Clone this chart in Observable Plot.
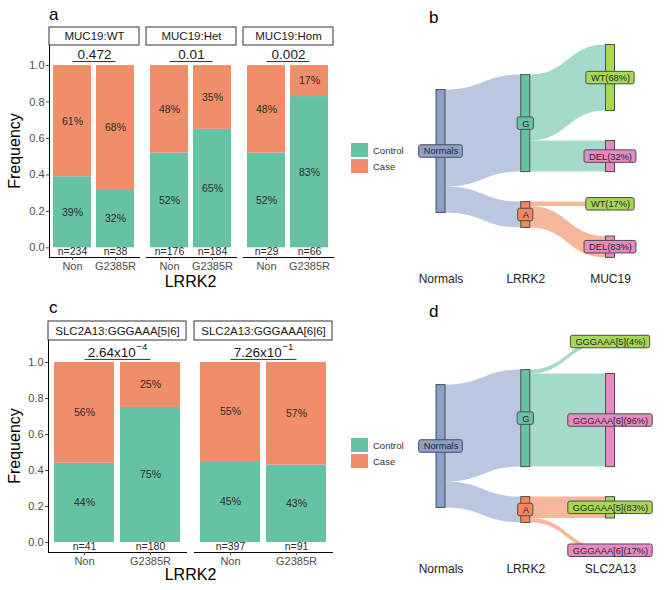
<!DOCTYPE html>
<html><head><meta charset="utf-8">
<script src="https://cdn.jsdelivr.net/npm/d3@7"></script>
<script src="https://cdn.jsdelivr.net/npm/@observablehq/plot@0.6"></script>
<style>
body{margin:0;background:#fff;}
#fig{position:relative;width:670px;height:590px;overflow:hidden;font-family:"Liberation Sans",Arial,Helvetica,sans-serif;color:#000;background:#fff;}
.panel{position:absolute;}
.letter{position:absolute;font-size:17px;line-height:17px;}
.axt{position:absolute;font-size:16px;line-height:16px;white-space:nowrap;color:#000;}
.sw{position:absolute;width:17px;height:14px;}
.lt{position:absolute;font-size:9.5px;line-height:10px;color:#333;transform:translateY(-50%);}
</style></head><body><div id="fig"></div><script>
// ---------- data ----------
const statusLevels = ["Control", "Case"];
const statusColors = ["#66c2a5", "#f08e69"];
const lrrk2Groups = ["Non", "G2385R"];

const mucFacets = ["MUC19:WT", "MUC19:Het", "MUC19:Hom"];
const mucControlPct = [39, 32, 52, 65, 52, 83];
const mucN = [234, 38, 176, 184, 29, 66];
const mucPBase = ["0.472", "0.01", "0.002"];
const mucPExp = ["", "", ""];

const slcFacets = ["SLC2A13:GGGAAA[5|6]", "SLC2A13:GGGAAA[6|6]"];
const slcControlPct = [44, 75, 45, 43];
const slcN = [41, 180, 397, 91];
const slcPBase = ["2.64x10", "7.26x10"];
const slcPExp = ["\u22124", "\u22121"];

const stagesB = ["Normals", "LRRK2", "MUC19"];
const stagesD = ["Normals", "LRRK2", "SLC2A13"];
const lrrk2Alleles = ["G", "A"];
const lrrk2AlleleShare = [79, 21];
const mucAlleles = ["WT", "DEL"];
const mucShareByAllele = [[68, 32], [17, 83]];
const slcAlleles = ["GGGAAA[5]", "GGGAAA[6]"];
const slcShareByAllele = [[4, 96], [83, 17]];

const nodeColors = {Normals: "#8da0cb", G: "#66c2a5", A: "#f4875c"};
const childColors = ["#a6d854", "#e78ac3"];

const FONT = '"Liberation Sans", Arial, Helvetica, sans-serif';
const fig = document.getElementById("fig");

const ctx = document.createElement("canvas").getContext("2d");
function textW(s, size) { ctx.font = size + 'px "Liberation Sans"'; return ctx.measureText(s).width; }

function place(el, left, top) {
  const d = document.createElement("div");
  d.className = "panel"; d.style.left = left + "px"; d.style.top = top + "px";
  d.appendChild(el); fig.appendChild(d);
}
function html(cls, text, css) {
  const d = document.createElement("div");
  d.className = cls; d.textContent = text; Object.assign(d.style, css); fig.appendChild(d);
}

// ---------- stacked bar panels ----------
const P_SIZE = 13.5, E_SIZE = 9.5;
function barPanel(o) {
  const rows = [], nRows = [];
  o.facets.forEach((f, i) => lrrk2Groups.forEach((g, j) => {
    const c = o.ctrl[i * 2 + j];
    rows.push({facet: f, group: g, status: "Control", pct: c, freq: c / 100});
    rows.push({facet: f, group: g, status: "Case", pct: 100 - c, freq: (100 - c) / 100});
    nRows.push({facet: f, group: g, n: o.n[i * 2 + j]});
  }));
  const pRows = o.facets.map((f, i) => {
    const wb = textW(o.pBase[i], P_SIZE), we = o.pExp[i] ? textW(o.pExp[i], E_SIZE) + 0.5 : 0;
    return {facet: f, base: o.pBase[i], exp: o.pExp[i], start: -(wb + we) / 2, wb};
  });
  return Plot.plot({
    width: o.width, height: o.height,
    marginLeft: 48, marginRight: 7, marginTop: o.mt, marginBottom: o.mb,
    style: {fontFamily: FONT, fontSize: "11px", color: "#4d4d4d", background: "#fff"},
    fx: {domain: o.facets, paddingInner: o.fxPad, paddingOuter: 0, axis: null, label: null},
    x: {domain: lrrk2Groups, paddingInner: o.xPadIn, paddingOuter: o.xPadOut, label: null},
    y: {domain: [o.yBottom, o.yTop], label: null},
    color: {domain: statusLevels, range: statusColors},
    marks: [
      Plot.barY(rows, {fx: "facet", x: "group", y: "freq", fill: "status"}),
      Plot.text(rows, Plot.stackY({fx: "facet", x: "group", y: "freq", text: d => d.pct + "%", fill: "#2b2b2b", fontSize: 10.5})),
      Plot.text(nRows, {fx: "facet", x: "group", y: 0, text: d => "n=" + d.n, lineAnchor: "top", fill: "#2b2b2b", fontSize: 10.5}),
      Plot.frame({anchor: "bottom", stroke: "#000", strokeOpacity: 1}),
      Plot.frame({anchor: "left", facetAnchor: "left", stroke: "#000", strokeOpacity: 1}),
      Plot.axisY({ticks: [0, 0.2, 0.4, 0.6, 0.8, 1], tickFormat: d3.format(".1f"), tickSize: 3, tickPadding: 2, fontSize: 11, label: null}),
      Plot.axisX({tickSize: 3, tickPadding: 2, fontSize: 11, label: null}),
      Plot.rect(pRows, {fx: "facet", y1: o.yTop, y2: o.yTop + o.stripH, fill: "#fff", stroke: "#333"}),
      Plot.text(pRows, {fx: "facet", y: o.yTop + o.stripH / 2, text: "facet", fontSize: 11.5, fill: "#1a1a1a"}),
      Plot.link(pRows, {fx: "facet", x1: () => "Non", x2: () => "G2385R", y1: o.pY, y2: o.pY, stroke: "#333", strokeWidth: 1}),
      ...pRows.map(r => Plot.text([r], {fx: "facet", y: o.pY, dy: -7, dx: r.start, textAnchor: "start", text: "base", fontSize: P_SIZE, fill: "#1a1a1a"})),
      ...pRows.filter(r => r.exp).map(r => Plot.text([r], {fx: "facet", y: o.pY, dy: -12.5, dx: r.start + r.wb + 0.5, textAnchor: "start", text: "exp", fontSize: E_SIZE, fill: "#1a1a1a"}))
    ]
  });
}

place(barPanel({facets: mucFacets, ctrl: mucControlPct, n: mucN, pBase: mucPBase, pExp: mucPExp,
  width: 340, height: 290, mt: 45, mb: 33, yBottom: -0.053, yTop: 1.11, stripH: 0.0987, pY: 1.022,
  fxPad: 0.077, xPadIn: 0.114, xPadOut: 0.08}), 0, 0);

place(barPanel({facets: slcFacets, ctrl: slcControlPct, n: slcN, pBase: slcPBase, pExp: slcPExp,
  width: 340, height: 300, mt: 50, mb: 38, yBottom: -0.0556, yTop: 1.122, stripH: 0.1056, pY: 1.017,
  fxPad: 0.0546, xPadIn: 0.09, xPadOut: 0.078}), 0, 290);

// ---------- sankey panels ----------
const PX_X = 84.75;   // pixels per stage
const PX_Y = 1.228;   // pixels per share unit
const HW = 4.5 / PX_X;
const GAP = 30 / PX_Y;
const L_SIZE = 9.3;

function sankeyPanel(o) {
  const nodes = [], links = [];
  nodes.push({key: "Normals", label: "Normals", stage: 0, value: 100, color: nodeColors.Normals});
  lrrk2Alleles.forEach((a, i) => {
    nodes.push({key: a, label: a, stage: 1, value: lrrk2AlleleShare[i], color: nodeColors[a]});
    links.push({source: "Normals", target: a, value: lrrk2AlleleShare[i]});
  });
  lrrk2Alleles.forEach((a, i) => o.childAlleles.forEach((c, j) => {
    const v = lrrk2AlleleShare[i] * o.childShare[i][j] / 100;
    nodes.push({key: a + ":" + c, label: `${c}(${o.childShare[i][j]}%)`, stage: 2, value: v, color: childColors[j]});
    links.push({source: a, target: a + ":" + c, value: v});
  }));
  const byKey = new Map(nodes.map(n => [n.key, n]));
  for (const s of [0, 1, 2]) {
    const col = nodes.filter(n => n.stage === s);
    const total = d3.sum(col, n => n.value) + GAP * (col.length - 1);
    let y = -total / 2;
    for (const n of col) {
      n.y0 = y; n.y1 = y + n.value; n.ym = (n.y0 + n.y1) / 2;
      n.outY = n.y0; n.inY = n.y0; y = n.y1 + GAP;
      n.bw = (textW(n.label, L_SIZE) / 2 + 4.5) / PX_X;
      n.bh = 6.25 / PX_Y;
    }
  }
  const pts = [];
  links.forEach((l, k) => {
    const s = byKey.get(l.source), t = byKey.get(l.target);
    const sy = s.outY; s.outY += l.value;
    const ty = t.inY; t.inY += l.value;
    pts.push({id: k, x: s.stage + HW, y1: sy, y2: sy + l.value, color: s.color});
    pts.push({id: k, x: t.stage - HW, y1: ty, y2: ty + l.value, color: s.color});
  });
  const D = 110;
  return Plot.plot({
    width: 330, height: o.height, marginLeft: 0, marginRight: 0, marginTop: 0, marginBottom: o.height - 282,
    style: {fontFamily: FONT, fontSize: "9px", background: "#fff"},
    x: {domain: [0, 2], range: [100.5, 270], axis: null},
    y: {domain: [-D, D], range: [o.cy - D * PX_Y, o.cy + D * PX_Y], axis: null},
    color: {type: "identity"},
    marks: [
      Plot.areaY(pts, {x: "x", y1: "y1", y2: "y2", z: "id", fill: "color", fillOpacity: 0.6, curve: "bump-x"}),
      Plot.rect(nodes, {x1: d => d.stage - HW, x2: d => d.stage + HW, y1: "y0", y2: "y1", fill: "color", stroke: "#4d4d4d", strokeWidth: 1}),
      Plot.rect(nodes, {x1: d => d.stage - d.bw, x2: d => d.stage + d.bw, y1: d => d.ym - d.bh, y2: d => d.ym + d.bh, fill: "color", stroke: "#4d4d4d", strokeWidth: 1, rx: 2}),
      Plot.text(nodes, {x: "stage", y: "ym", text: "label", fontSize: L_SIZE, fill: "#262626"}),
      Plot.text(o.stages, {x: (d, i) => i, frameAnchor: "bottom", text: d => d, fontSize: 12, fill: "#222"})
    ]
  });
}

place(sankeyPanel({stages: stagesB, childAlleles: mucAlleles, childShare: mucShareByAllele, height: 290, cy: 151}), 340, 0);
place(sankeyPanel({stages: stagesD, childAlleles: slcAlleles, childShare: slcShareByAllele, height: 300, cy: 156}), 340, 290);

// ---------- legends ----------
function legend(cy) {
  statusLevels.forEach((s, i) => {
    const sw = document.createElement("div");
    sw.className = "sw"; sw.style.left = "351px"; sw.style.top = (cy - 8 + i * 16) + "px";
    sw.style.background = statusColors[i]; fig.appendChild(sw);
    html("lt", s, {left: "373px", top: (cy - 0.5 + i * 16) + "px"});
  });
}
legend(151);
legend(446);

// ---------- titles and panel letters ----------
html("letter", "a", {left: "49px", top: "5.6px"});
html("letter", "b", {left: "429px", top: "8.6px"});
html("letter", "c", {left: "49px", top: "298.6px"});
html("letter", "d", {left: "429px", top: "302.6px"});
html("axt", "Frequency", {left: "14.5px", top: "151px", transform: "translate(-50%,-50%) rotate(-90deg)"});
html("axt", "Frequency", {left: "14.5px", top: "446px", transform: "translate(-50%,-50%) rotate(-90deg)"});
html("axt", "LRRK2", {left: "190.5px", top: "282px", transform: "translate(-50%,-50%)"});
html("axt", "LRRK2", {left: "190.5px", top: "575px", transform: "translate(-50%,-50%)"});
</script></body></html>
